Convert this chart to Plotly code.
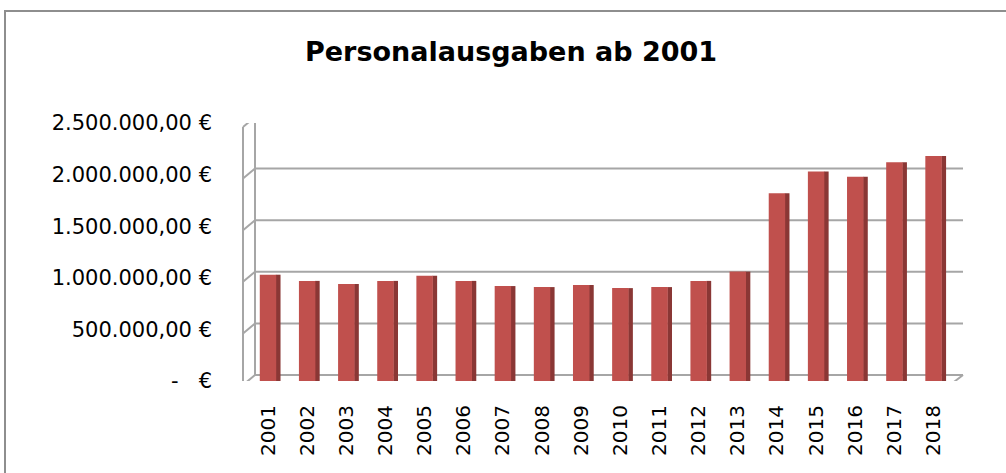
import plotly.graph_objects as go

years = [str(y) for y in range(2001, 2019)]
values = [1030000, 970000, 940000, 970000, 1020000, 970000, 920000, 910000, 930000,
          900000, 910000, 970000, 1060000, 1820000, 2030000, 1980000, 2120000, 2180000]
tick_vals = [0, 500000, 1000000, 1500000, 2000000, 2500000]
tick_text = ["-\u00a0\u00a0\u00a0€", "500.000,00 €", "1.000.000,00 €", "1.500.000,00 €",
             "2.000.000,00 €", "2.500.000,00 €"]

W, H = 1006, 473
L, R, T, B = 255, 43, 123, 92
PW = W - L - R


def xp(px):
    return (px - L) / PW


FRONT = "#C0504D"
SIDE = "#8A3735"
GRID = "#A6A6A6"

fig = go.Figure()
fig.add_trace(go.Bar(x=years, y=values, width=0.12, offset=0.2, marker_color=SIDE,
                     marker_line_width=0, hoverinfo="skip", showlegend=False))
fig.add_trace(go.Bar(x=years, y=values, width=0.42, offset=-0.21, marker_color=FRONT,
                     marker_line_width=0, showlegend=False))

shapes = []
for v in tick_vals:
    shapes.append(dict(type="line", xref="paper", yref="y", ysizemode="pixel", yanchor=v,
                       x0=0, x1=1, y0=6, y1=6, line=dict(color=GRID, width=2), layer="below"))
    shapes.append(dict(type="line", xref="paper", yref="y", ysizemode="pixel", yanchor=v,
                       x0=xp(243), x1=0, y0=-4, y1=6, line=dict(color=GRID, width=2), layer="below"))
shapes.append(dict(type="line", xref="paper", yref="y", ysizemode="pixel", yanchor=0,
                   x0=xp(243), x1=xp(243), y0=-4, y1=254, line=dict(color=GRID, width=2), layer="below"))
shapes.append(dict(type="line", xref="paper", yref="y", ysizemode="pixel", yanchor=0,
                   x0=0, x1=0, y0=6, y1=264, line=dict(color=GRID, width=2), layer="below"))
shapes.append(dict(type="line", xref="paper", yref="y", ysizemode="pixel", yanchor=0,
                   x0=xp(243), x1=xp(950), y0=-4, y1=-4, line=dict(color=GRID, width=2.5), layer="above"))
shapes.append(dict(type="line", xref="paper", yref="y", ysizemode="pixel", yanchor=0,
                   x0=xp(950), x1=1, y0=-4, y1=6, line=dict(color=GRID, width=2), layer="above"))
shapes.append(dict(type="rect", xref="paper", yref="paper", x0=xp(5), x1=1.3,
                   y0=-1, y1=(H - B - 11) / (H - T - B), line=dict(color="#8E8E8E", width=2)))

fig.update_layout(
    template="none",
    width=W, height=H,
    margin=dict(l=L, r=R, t=T, b=B, autoexpand=False),
    paper_bgcolor="white", plot_bgcolor="rgba(0,0,0,0)",
    barmode="overlay",
    title=dict(text="<b>Personalausgaben ab 2001</b>", x=0.508, xref="container",
               y=1 - 52 / H, yref="container", xanchor="center", yanchor="middle",
               font=dict(family="DejaVu Sans", size=27, color="black")),
    font=dict(family="DejaVu Sans", color="black"),
    shapes=shapes,
    xaxis=dict(range=[(255 - 268) / 39.15, (963 - 268) / 39.15], type="category",
               automargin=False, showgrid=False, zeroline=False, showline=False, ticks="",
               tickangle=-90, tickfont=dict(size=20), ticklabelstandoff=19),
    yaxis=dict(range=[0, 2500000], tickvals=tick_vals, ticktext=tick_text,
               automargin=False, showgrid=False, zeroline=False, showline=False, ticks="",
               tickfont=dict(size=21), ticklabelstandoff=42),
)

fig.write_html("out.html", config={"displayModeBar": False},
               post_script="document.body.style.margin='0';document.body.style.overflow='hidden';")
